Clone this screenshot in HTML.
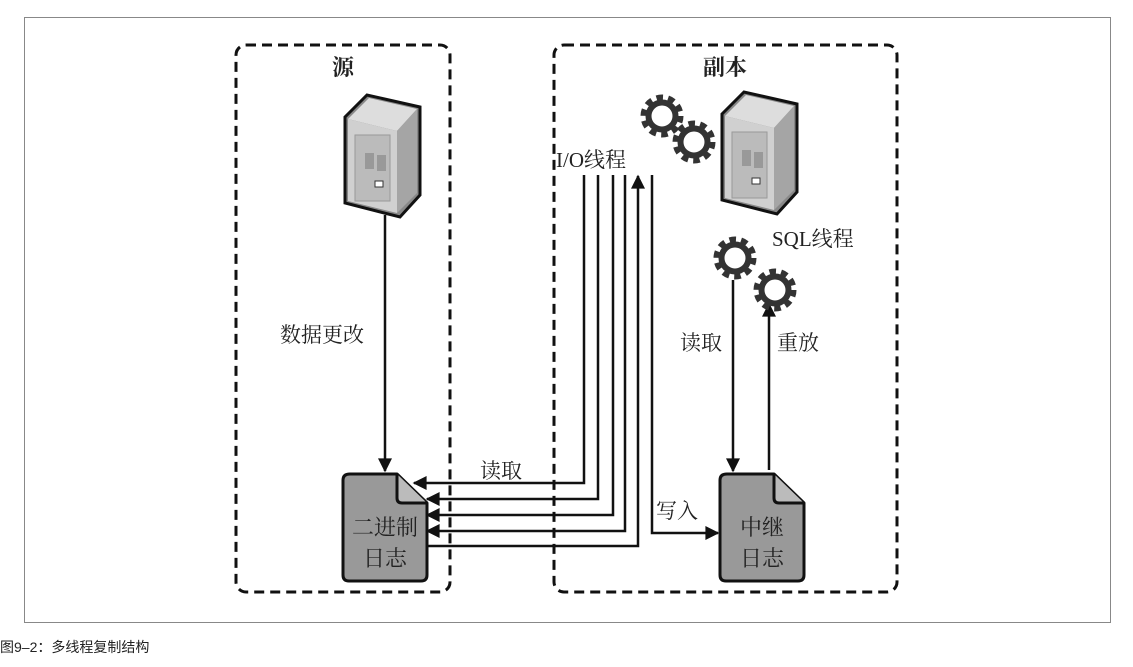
<!DOCTYPE html>
<html><head><meta charset="utf-8"><style>
body{margin:0;background:#fff;}
svg text{font-family:"Liberation Serif","Noto Serif CJK SC","Noto Sans CJK SC",serif;fill:#222;}
</style></head><body>
<svg width="1133" height="662" xmlns="http://www.w3.org/2000/svg">
<defs>
<marker id="b" viewBox="0 0 10 10" refX="9" refY="5" markerWidth="16" markerHeight="14" orient="auto" markerUnits="userSpaceOnUse"><path d="M0,0L10,5L0,10z" fill="#111"/></marker>
<g id="gear"><circle r="17" fill="none" stroke="#333" stroke-width="9" stroke-dasharray="6 4.7"/><circle r="13.5" fill="none" stroke="#333" stroke-width="6"/></g>
<g id="srv">
<path d="M0,22 L22,0 L75,12 L75,100 L55,122 L0,108 Z" fill="#888" stroke="#111" stroke-width="3"/>
<path d="M3,24 L24,3 L72,14 L52,36 Z" fill="#ddd"/>
<path d="M52,36 L72,14 L72,98 L52,118 Z" fill="#a5a5a5"/>
<path d="M3,24 L52,36 L52,118 L3,106 Z" fill="#d0d0d0"/>
<rect x="10" y="40" width="35" height="66" fill="#bbb" stroke="#999"/>
<rect x="20" y="58" width="9" height="16" fill="#999"/><rect x="32" y="60" width="9" height="16" fill="#999"/>
<rect x="30" y="86" width="8" height="6" fill="#fff" stroke="#333"/>
</g>
</defs>
<rect x="24.5" y="17.5" width="1086" height="605" fill="none" stroke="#888" stroke-width="1"/>
<rect x="236" y="45" width="214" height="547" rx="10" fill="none" stroke="#111" stroke-width="3" stroke-dasharray="10 6"/>
<rect x="554" y="45" width="343" height="547" rx="10" fill="none" stroke="#111" stroke-width="3" stroke-dasharray="10 6"/>
<text x="343" y="75" font-size="22" font-weight="bold" text-anchor="middle">源</text>
<text x="725" y="75" font-size="22" font-weight="bold" text-anchor="middle">副本</text>
<use href="#srv" x="345" y="95"/>
<use href="#srv" x="722" y="92"/>
<g stroke="#111" stroke-width="2.5" fill="none">
<line x1="385" y1="215" x2="385" y2="471" marker-end="url(#b)"/>
<polyline points="584,175 584,483 414,483" marker-end="url(#b)"/>
<polyline points="598,175 598,499 427,499" marker-end="url(#b)"/>
<polyline points="613,175 613,515 427,515" marker-end="url(#b)"/>
<polyline points="625,175 625,531 427,531" marker-end="url(#b)"/>
<polyline points="427,546 638,546 638,176" marker-end="url(#b)"/>
<polyline points="652,175 652,533 718,533" marker-end="url(#b)"/>
<line x1="733" y1="280" x2="733" y2="471" marker-end="url(#b)"/>
<line x1="769" y1="470" x2="769" y2="304" marker-end="url(#b)"/>
</g>
<g fill="#999" stroke="#111" stroke-width="3" stroke-linejoin="round">
<path d="M350,474 H397 L427,503 V575 Q427,581 421,581 H349 Q343,581 343,575 V480 Q343,474 350,474 Z"/>
<path d="M397,474 V498 Q397,503 402,503 H427" fill="#bbb"/>
<path d="M727,474 H774 L804,503 V575 Q804,581 798,581 H726 Q720,581 720,575 V480 Q720,474 727,474 Z"/>
<path d="M774,474 V498 Q774,503 779,503 H804" fill="#bbb"/>
</g>
<g font-size="22" text-anchor="middle">
<text x="385" y="535">二进制</text><text x="385" y="566">日志</text>
<text x="762" y="535">中继</text><text x="762" y="566">日志</text>
</g>
<use href="#gear" x="662" y="116"/><use href="#gear" x="694" y="142"/>
<use href="#gear" x="735" y="258"/><use href="#gear" x="775" y="290"/>
<g font-size="21">
<text x="556" y="167">I/O线程</text>
<text x="772" y="246">SQL线程</text>
<text x="280" y="342">数据更改</text>
<text x="480" y="478">读取</text>
<text x="656" y="518">写入</text>
<text x="680" y="350">读取</text>
<text x="777" y="350">重放</text>
</g>
<text x="0" y="652" font-size="14" style='font-family:"Liberation Sans","Noto Sans CJK SC",sans-serif'>图9–2：多线程复制结构</text>
</svg>
</body></html>
